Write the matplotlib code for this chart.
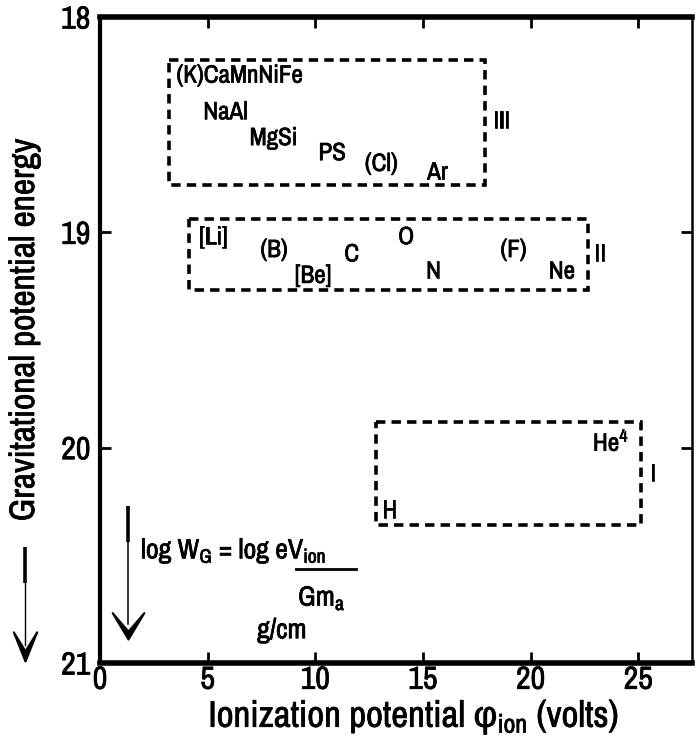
import matplotlib
matplotlib.use('Agg')
import matplotlib.pyplot as plt
import matplotlib.patheffects as pe
from matplotlib.patches import Rectangle
from matplotlib.path import Path

plt.rcParams['font.family'] = ['Archivo Narrow', 'DejaVu Sans']
plt.rcParams['mathtext.fontset'] = 'custom'
plt.rcParams['mathtext.rm'] = 'Archivo Narrow'
plt.rcParams['mathtext.it'] = 'Archivo Narrow'
plt.rcParams['mathtext.sf'] = 'Liberation Sans'
plt.rcParams['mathtext.default'] = 'regular'

# group boxes: x from, x to, y from, y to, group label, label x, label y
box_x0 = [3.2, 4.15, 12.8]
box_x1 = [17.9, 22.65, 25.15]
box_y0 = [18.20, 18.94, 19.88]
box_y1 = [18.78, 19.27, 20.36]
box_names = ['III', 'II', 'I']
box_name_x = [18.25, 22.95, 25.55]
box_name_y = [18.48, 19.10, 20.12]

# elements (left edge x, centre y)
el_names = ['(K)CaMnNiFe', 'NaAl', 'MgSi', 'PS', '(Cl)', 'Ar',
            '[Li]', '(B)', '[Be]', 'C', 'O', 'N', '(F)', 'Ne',
            'He$^4$', 'H']
el_x = [3.55, 4.8, 6.95, 10.15, 12.3, 15.2,
        4.6, 7.45, 9.05, 11.35, 13.85, 15.15, 18.6, 20.85,
        22.9, 13.1]
el_y = [18.27, 18.44, 18.56, 18.63, 18.68, 18.72,
        19.02, 19.08, 19.20, 19.10, 19.02, 19.18, 19.08, 19.18,
        19.97, 20.29]

bold = [pe.withStroke(linewidth=0.5, foreground='black')]

fig = plt.figure(figsize=(6.97, 7.46), dpi=100)
ax = fig.add_axes([100/697, 1-663/746, (692-100)/697, (663-17)/746])
ax.set_xlim(0.14, 27.5)
ax.set_ylim(21, 18)

for i in range(len(box_names)):
    r = Rectangle((box_x0[i], box_y0[i]), box_x1[i]-box_x0[i], box_y1[i]-box_y0[i],
                  fill=False, lw=2.6, ls=(0, (2.6, 1.7)), ec='black')
    ax.add_patch(r)
    ax.text(box_name_x[i], box_name_y[i], box_names[i], fontsize=18, va='center', ha='left',
            path_effects=bold)

for n, x, y in zip(el_names, el_x, el_y):
    ax.text(x, y, n, fontsize=18, va='center', ha='left', path_effects=bold)

ax.set_xticks([0, 5, 10, 15, 20, 25])
ax.set_yticks([18, 19, 20, 21])
ax.tick_params(direction='in', length=8, width=2, labelsize=23, top=True, right=True, pad=2)
ax.tick_params(axis='y', pad=7)
for lab in ax.get_xticklabels() + ax.get_yticklabels():
    lab.set_path_effects(bold)
ax.spines['top'].set_linewidth(4)
ax.spines['bottom'].set_linewidth(4)
ax.spines['left'].set_linewidth(3)
ax.spines['right'].set_linewidth(1.8)

ax.set_xlabel(r'Ionization potential $\mathsf{\varphi}_{ion}$ (volts)', fontsize=26.5, labelpad=3,
              path_effects=bold)
ax.xaxis.label.set_x(0.53)

# formula
ax.text(1.9, 20.48, 'log W$_G$ = log eV$_{ion}$', fontsize=20, va='center', ha='left', path_effects=bold)
ax.plot([9.1, 11.9], [20.565, 20.565], color='black', lw=2)
ax.text(9.2, 20.70, 'Gm$_a$', fontsize=20, va='center', ha='left', path_effects=bold)
ax.text(7.3, 20.85, 'g/cm', fontsize=20, va='center', ha='left', path_effects=bold)

# notched arrowheads, tip at (0, 0)
head_wide = Path([(0, 0), (-0.6, 1.0), (0, 0.3), (0.6, 1.0), (0, 0)],
                 [Path.MOVETO, Path.LINETO, Path.LINETO, Path.LINETO, Path.CLOSEPOLY])
head_narrow = Path([(0, 0), (-0.4, 1.0), (0, 0.35), (0.4, 1.0), (0, 0)],
                   [Path.MOVETO, Path.LINETO, Path.LINETO, Path.LINETO, Path.CLOSEPOLY])

# inner arrow
ax.plot([1.3, 1.3], [20.27, 20.44], color='black', lw=2.6, solid_capstyle='butt')
ax.plot([1.3, 1.3], [20.44, 20.82], color='black', lw=1.1)
ax.plot([1.3], [20.89], marker=head_wide, ms=38, color='black', mfc='black', mec='black', mew=1.5)

# y label with arrow
fig.text(24/697, 1-330/746, 'Gravitational potential energy', rotation=90,
         fontsize=25.5, ha='center', va='center', path_effects=bold)
fig.add_artist(plt.Line2D([25/697, 25/697], [1-547/746, 1-583/746], transform=fig.transFigure,
                          color='black', lw=2.6, solid_capstyle='butt'))
fig.add_artist(plt.Line2D([25/697, 25/697], [1-583/746, 1-645/746], transform=fig.transFigure,
                          color='black', lw=1.0))
fig.add_artist(plt.Line2D([25/697], [1-661/746], transform=fig.transFigure,
                          marker=head_narrow, ms=42, color='black', mfc='black', mec='black', mew=1.5))

fig.savefig('out.png', dpi=100)
